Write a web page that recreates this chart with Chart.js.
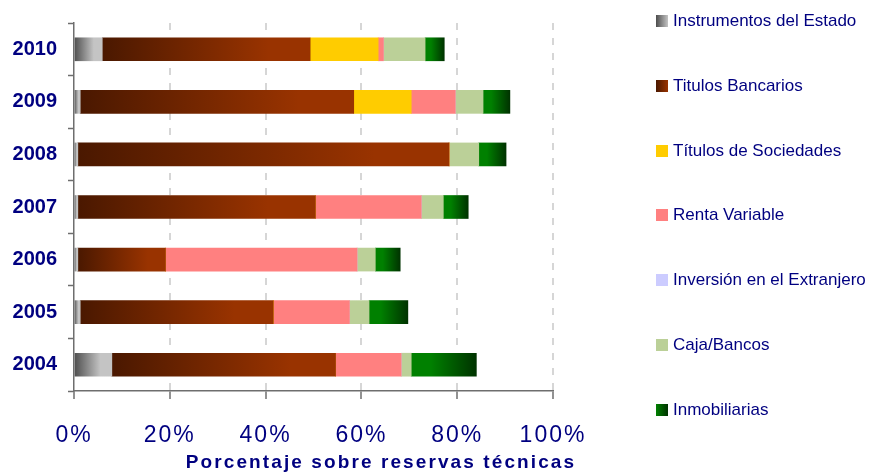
<!DOCTYPE html>
<html>
<head>
<meta charset="utf-8">
<script src="https://cdn.jsdelivr.net/npm/chart.js@4"></script>
<style>
  body { margin: 0; background: #fff; }
  #wrap { position: relative; width: 877px; height: 472px; }
  #legend { position: absolute; left: 0; top: 0; }
  .item { position: absolute; left: 656px; height: 20px; display: flex; align-items: center;
          font: 17px "Liberation Sans", Arial, sans-serif; color: #000080; white-space: nowrap; }
  .box { width: 12px; height: 12px; margin-right: 5px; }
  #xtitle { position: absolute; left: 381px; top: 451px; transform: translateX(-50%);
            font: bold 19px "Liberation Sans", Arial, sans-serif; letter-spacing: 2.1px;
            color: #000080; white-space: nowrap; }
</style>
</head>
<body>
<div id="wrap">
  <canvas id="chart" width="877" height="472"></canvas>
  <div id="legend"></div>
  <div id="xtitle"></div>
</div>
<script>
const years = ["2010", "2009", "2008", "2007", "2006", "2005", "2004"];
const seriesNames = [
  "Instrumentos del Estado",
  "Titulos Bancarios",
  "Títulos de Sociedades",
  "Renta Variable",
  "Inversión en el Extranjero",
  "Caja/Bancos",
  "Inmobiliarias",
];
const estado = [5.9, 1.3, 0.8, 0.8, 0.8, 1.3, 7.9];
const bancarios = [43.4, 57.1, 77.5, 49.6, 18.3, 40.3, 46.7];
const sociedades = [14.2, 12.0, 0, 0, 0, 0, 0];
const renta = [1.1, 9.2, 0, 22.1, 40.0, 15.9, 13.7];
const extranjero = [0, 0, 0, 0, 0, 0, 0];
const caja = [8.7, 5.8, 6.2, 4.6, 3.8, 4.1, 2.1];
const inmob = [4.0, 5.6, 5.7, 5.2, 5.2, 8.1, 13.6];
const xTicks = [0, 20, 40, 60, 80, 100];
const xTitle = "Porcentaje sobre reservas técnicas";

const series = [estado, bancarios, sociedades, renta, extranjero, caja, inmob];

// colour stops per series: [offset, colour]
const fills = [
  [[0, "#4d4d4d"], [0.7, "#c4c4c4"], [1, "#c4c4c4"]],
  [[0, "#4a1800"], [0.8, "#993300"], [1, "#993300"]],
  [[0, "#ffcc00"], [1, "#ffcc00"]],
  [[0, "#ff8080"], [1, "#ff8080"]],
  [[0, "#ccccff"], [1, "#ccccff"]],
  [[0, "#bbd098"], [1, "#bbd098"]],
  [[0, "#008000"], [0.3, "#008000"], [1, "#003300"]],
];

const navy = "#000080";
const font = "'Liberation Sans', Arial, sans-serif";

function barFill(d) {
  const stops = fills[d];
  return (ctx) => {
    const chart = ctx.chart;
    const x = chart.scales && chart.scales.x;
    if (ctx.type !== "data" || !x || !chart.chartArea) return stops[stops.length - 1][1];
    const i = ctx.dataIndex;
    let start = 0;
    for (let k = 0; k < d; k++) start += series[k][i];
    const x0 = x.getPixelForValue(start);
    const x1 = x.getPixelForValue(start + series[d][i]);
    if (x1 - x0 < 1) return stops[stops.length - 1][1];
    const g = chart.ctx.createLinearGradient(x0, 0, x1, 0);
    stops.forEach(([o, c]) => g.addColorStop(o, c));
    return g;
  };
}

// x tick labels are drawn after the bars (ticks.z = 1), so widen only them
const spacedLabels = {
  id: "spacedLabels",
  afterDatasetsDraw(chart) { chart.ctx.letterSpacing = "2px"; },
  afterDraw(chart) { chart.ctx.letterSpacing = "0px"; },
};

const ctx = document.getElementById("chart").getContext("2d");
new Chart(ctx, {
  type: "bar",
  data: {
    labels: years,
    datasets: series.map((vals, d) => ({
      label: seriesNames[d],
      data: vals,
      backgroundColor: barFill(d),
      borderWidth: 0,
      barThickness: 23,
    })),
  },
  options: {
    indexAxis: "y",
    responsive: false,
    animation: false,
    layout: { padding: { top: 20, right: 324, left: 0, bottom: 0 } },
    plugins: { legend: { display: false }, tooltip: { enabled: false } },
    scales: {
      x: {
        stacked: true,
        min: 0,
        max: 100,
        afterBuildTicks: (s) => { s.ticks = xTicks.map((v) => ({ value: v })); },
        afterFit: (s) => { s.height = 81; },
        ticks: {
          color: navy,
          font: { family: font, size: 23 },
          padding: 23,
          z: 1,
          callback: (v) => v + "%",
        },
        grid: {
          color: (c) => (c.tick && c.tick.value === 0 ? "rgba(0,0,0,0)" : "#d6d6d6"),
          lineWidth: 2,
          tickColor: "#6e6e6e",
          tickLength: 8,
          tickWidth: 1.5,
          tickBorderDash: [],
        },
        border: { color: "#6e6e6e", width: 1.5, dash: [7, 8] },
      },
      y: {
        stacked: true,
        afterFit: (s) => { s.width = 74; },
        ticks: {
          color: navy,
          font: { family: font, size: 20, weight: "bold" },
          padding: 11,
        },
        grid: {
          drawOnChartArea: false,
          tickColor: "#6e6e6e",
          tickLength: 6,
          tickWidth: 1.5,
        },
        border: { color: "#6e6e6e", width: 1.5 },
      },
    },
  },
  plugins: [spacedLabels],
});

document.getElementById("xtitle").textContent = xTitle;

// legend
const legendSwatch = [
  "linear-gradient(to right, #4d4d4d, #c4c4c4)",
  "linear-gradient(to right, #4a1800, #993300)",
  "#ffcc00",
  "#ff8080",
  "#ccccff",
  "#bbd098",
  "linear-gradient(to right, #008000, #003300)",
];
const legend = document.getElementById("legend");
seriesNames.forEach((name, i) => {
  const el = document.createElement("div");
  el.className = "item";
  el.style.top = (11 + i * 64.8) + "px";
  el.innerHTML = '<span class="box" style="background:' + legendSwatch[i] + '"></span><span>' + name + "</span>";
  legend.appendChild(el);
});
</script>
</body>
</html>
